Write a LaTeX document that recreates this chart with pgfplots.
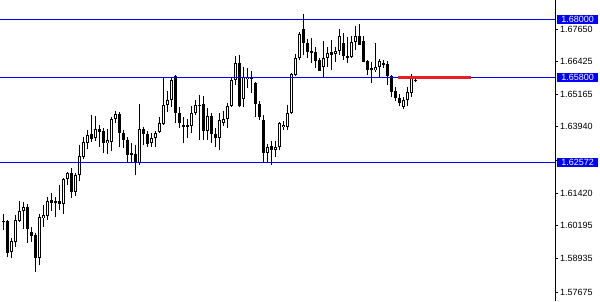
\documentclass[border=0pt]{standalone}
\usepackage{pgfplots}
\pgfplotsset{compat=1.18}
\usepackage{pgfplotstable}
\usepackage{fontspec}
\setmainfont{Liberation Sans}
\definecolor{lvlblue}{RGB}{0,0,255}
\definecolor{zonered}{RGB}{230,30,40}

% OHLC bars, one per row, oldest first
\pgfplotstableread{
o h l c
1.60379 1.60622 1.60015 1.60318
1.60379 1.60405 1.59013 1.59165
1.59180 1.59711 1.58953 1.59609
1.59582 1.60595 1.59393 1.60394
1.60367 1.61126 1.60330 1.60735
1.60735 1.61088 1.60053 1.60898
1.60898 1.61001 1.59522 1.60064
1.59939 1.60151 1.59582 1.59810
1.59836 1.59901 1.58444 1.58975
1.58975 1.60633 1.58699 1.60519
1.60493 1.60974 1.60151 1.60584
1.60569 1.61289 1.60405 1.61126
1.61164 1.61441 1.60758 1.61039
1.61039 1.61289 1.60531 1.61115
1.61126 1.61733 1.60785 1.61001
1.61001 1.61987 1.60633 1.61949
1.61949 1.62237 1.61733 1.62177
1.62177 1.62366 1.61251 1.61479
1.61479 1.62177 1.61316 1.62101
1.62101 1.63250 1.61896 1.62833
1.62806 1.63565 1.62708 1.63375
1.63337 1.63819 1.63098 1.63629
1.63667 1.64388 1.63375 1.63489
1.63504 1.64350 1.63413 1.63846
1.63868 1.64009 1.63186 1.63755
1.63781 1.63884 1.62935 1.63315
1.63315 1.63857 1.62909 1.63440
1.63375 1.64301 1.63034 1.64225
1.64225 1.64540 1.64085 1.64415
1.64426 1.64521 1.63186 1.63694
1.63717 1.63819 1.63125 1.63440
1.63440 1.63565 1.62556 1.62871
1.62935 1.63315 1.62617 1.62860
1.62909 1.63250 1.62112 1.62556
1.62556 1.64805 1.62511 1.63846
1.63846 1.63944 1.63250 1.63667
1.63667 1.63781 1.63163 1.63288
1.63315 1.63694 1.63186 1.63504
1.63504 1.63781 1.63186 1.63694
1.63755 1.64301 1.63694 1.64073
1.64047 1.65780 1.64009 1.64767
1.64767 1.65310 1.64502 1.64957
1.64957 1.65780 1.64703 1.65716
1.65867 1.65905 1.64073 1.64475
1.64475 1.64680 1.63884 1.64096
1.64009 1.64331 1.63315 1.63944
1.63944 1.64236 1.63504 1.64009
1.63971 1.64729 1.63694 1.64453
1.64453 1.64957 1.64388 1.64767
1.64741 1.65147 1.63440 1.64767
1.64805 1.65109 1.63440 1.63793
1.63793 1.64654 1.63440 1.64350
1.64350 1.64453 1.63315 1.63667
1.63667 1.63884 1.63155 1.63504
1.63504 1.64464 1.63061 1.64198
1.64104 1.64559 1.63971 1.64225
1.64225 1.64832 1.63884 1.64729
1.64718 1.65810 1.64703 1.65716
1.65716 1.66626 1.65526 1.66372
1.66372 1.66664 1.64710 1.64729
1.64984 1.66220 1.64703 1.65841
1.65742 1.66171 1.65412 1.65829
1.65818 1.66068 1.65211 1.65754
1.65613 1.65651 1.64324 1.64805
1.64805 1.64919 1.64198 1.64324
1.64198 1.64388 1.62556 1.62958
1.62958 1.63288 1.62556 1.63186
1.63224 1.63402 1.62492 1.63061
1.63061 1.63402 1.62795 1.63186
1.63174 1.64134 1.63061 1.64073
1.63922 1.64160 1.63819 1.64009
1.63944 1.64767 1.63819 1.64453
1.64453 1.65970 1.64426 1.65943
1.65905 1.66702 1.65867 1.66539
1.66539 1.67536 1.66474 1.67460
1.67639 1.68219 1.66664 1.67108
1.67108 1.67278 1.66539 1.66789
1.66751 1.67297 1.66349 1.66816
1.66766 1.66979 1.66159 1.66436
1.66474 1.66539 1.66068 1.66068
1.66220 1.67206 1.65780 1.66539
1.66539 1.66979 1.66220 1.66751
1.66789 1.67233 1.66095 1.66664
1.66702 1.66979 1.66410 1.66827
1.66827 1.67639 1.66664 1.67385
1.67108 1.67487 1.66474 1.66626
1.66626 1.67358 1.66349 1.66577
1.66599 1.67385 1.66539 1.67168
1.67168 1.67764 1.66854 1.67385
1.67385 1.67840 1.67043 1.67043
1.67195 1.67385 1.66410 1.66410
1.66436 1.66474 1.65905 1.66095
1.66159 1.66410 1.65613 1.66095
1.66095 1.67130 1.66030 1.66197
1.66197 1.66501 1.65780 1.66436
1.66372 1.66474 1.66159 1.66311
1.66322 1.66448 1.65526 1.65867
1.65867 1.65905 1.65059 1.65272
1.65310 1.65439 1.64930 1.65021
1.65044 1.65173 1.64729 1.64832
1.64703 1.65082 1.64604 1.64957
1.64957 1.65439 1.64729 1.65272
1.65234 1.65943 1.65082 1.65818
1.65716 1.65742 1.65651 1.65678
}\candles

\begin{document}
\begin{tikzpicture}
\begin{axis}[
  scale only axis, width=555pt, height=301pt,
  xmin=0, xmax=555, ymin=1.57333, ymax=1.68750,
  axis x line=none, axis y line=right,
  axis line style={-, black, line width=1pt},
  ytick={1.57675,1.58935,1.60195,1.61420,1.62680,1.63940,1.65165,1.66425,1.67650},
  yticklabels={1.57675,1.58935,1.60195,1.61420,{},1.63940,1.65165,1.66425,1.67650},
  tick align=outside, major tick length=3pt,
  tick style={black, line width=0.8pt},
  yticklabel style={font=\fontsize{9}{9}\selectfont, anchor=west, inner sep=0pt, xshift=2pt},
  clip=false,
]
% wicks: high to low
\addplot[draw=none, mark=none, forget plot,
  error bars/.cd, y dir=both, y explicit, error mark=none,
  error bar style={draw=black, line width=1pt}]
  table[x expr={4*\coordindex+3}, y expr={(\thisrow{h}+\thisrow{l})/2},
        y error expr={(\thisrow{h}-\thisrow{l})/2}] {\candles};
% bodies: open to close
\addplot[draw=none, mark=none, forget plot,
  error bars/.cd, y dir=both, y explicit, error mark=none,
  error bar style={draw=black, line width=3pt}]
  table[x expr={4*\coordindex+3}, y expr={(\thisrow{o}+\thisrow{c})/2},
        y error expr={max(abs(\thisrow{o}-\thisrow{c})/2,0.00019)}] {\candles};
% hollow centre of rising bars
\addplot[draw=none, mark=none, forget plot,
  error bars/.cd, y dir=both, y explicit, error mark=none,
  error bar style={draw=white, line width=1pt}]
  table[x expr={4*\coordindex+3}, y expr={(\thisrow{o}+\thisrow{c})/2},
        y error expr={(\thisrow{c}>\thisrow{o})*max((\thisrow{c}-\thisrow{o})/2-0.00038,0)}] {\candles};
% level lines as thin filled bands (about one pixel tall)
\addplot[fill=lvlblue, draw=none, forget plot]
  coordinates {(0,1.67979) (555,1.67979) (555,1.68021) (0,1.68021)} -- cycle;
\addplot[fill=lvlblue, draw=none, forget plot]
  coordinates {(0,1.65779) (555,1.65779) (555,1.65821) (0,1.65821)} -- cycle;
\addplot[fill=lvlblue, draw=none, forget plot]
  coordinates {(0,1.62551) (555,1.62551) (555,1.62593) (0,1.62593)} -- cycle;
\addplot[draw=zonered, line width=3pt, forget plot]
  coordinates {(398,1.65800) (471,1.65800)};
\coordinate (L1) at (axis cs:555,1.68000);
\coordinate (L2) at (axis cs:555,1.65800);
\coordinate (L3) at (axis cs:555,1.62572);
\end{axis}
\node[fill=lvlblue, text=white, anchor=west, inner sep=0pt, minimum width=41pt,
      minimum height=9pt, font=\fontsize{9}{9}\selectfont, xshift=2pt] at (L1) {1.68000};
\node[fill=lvlblue, text=white, anchor=west, inner sep=0pt, minimum width=41pt,
      minimum height=9pt, font=\fontsize{9}{9}\selectfont, xshift=2pt] at (L2) {1.65800};
\node[fill=lvlblue, text=white, anchor=west, inner sep=0pt, minimum width=41pt,
      minimum height=9pt, font=\fontsize{9}{9}\selectfont, xshift=2pt] at (L3) {1.62572};
\pgfresetboundingbox
\useasboundingbox (0,0) rectangle (600pt,301pt);
\end{tikzpicture}
\end{document}
